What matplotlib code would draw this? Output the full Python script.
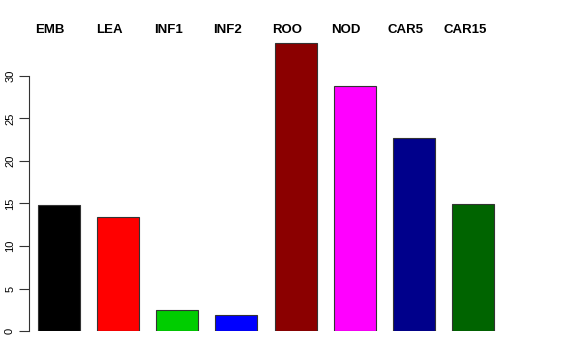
import matplotlib
matplotlib.use("Agg")
import matplotlib.pyplot as plt
import numpy as np

categories = ["EMB", "LEA", "INF1", "INF2", "ROO", "NOD", "CAR5", "CAR15"]
values = [14.8, 13.4, 2.5, 1.9, 33.9, 28.8, 22.7, 14.9]
colors = ["#000000", "#FF0000", "#00CD00", "#0000FF", "#8B0000", "#FF00FF", "#00008B", "#006400"]
yticks = [0, 5, 10, 15, 20, 25, 30]

plt.rcParams['font.family'] = ['Liberation Sans', 'DejaVu Sans']

W, H = 576, 360
fig = plt.figure(figsize=(W / 100, H / 100), dpi=100)
# axes in pixel coordinates
left, right, bottom, top = 29, 503, 331, 42
ax = fig.add_axes([left / W, (H - bottom) / H, (right - left) / W, (bottom - top) / H])

x = np.arange(len(categories))
ax.bar(x, values, width=0.71, color=colors, edgecolor="#333333", linewidth=0.8)
ax.set_xlim(-0.5, len(categories) - 0.5)
ax.set_ylim(0, 34.0)

for s in ["top", "right", "bottom"]:
    ax.spines[s].set_visible(False)
ax.spines["left"].set_bounds(0, 30)
ax.spines["left"].set_color("#333333")
ax.spines["left"].set_linewidth(0.8)
ax.set_xticks([])
ax.set_yticks(yticks)
ax.set_yticklabels([str(t) for t in yticks], rotation=90, va="center", fontsize=8)
ax.tick_params(axis="y", length=7, width=0.8, color="#333333", pad=3)

for xi, lab in zip(x, categories):
    ax.text(xi - 0.145, 1.0, lab, transform=ax.get_xaxis_transform(), ha="center", va="center",
            fontsize=9.5, fontweight="bold")
# place labels at fixed pixel height
for t in ax.texts:
    xd = t.get_position()[0]
    t.set_transform(matplotlib.transforms.blended_transform_factory(ax.transData, fig.transFigure))
    t.set_position((xd, (H - 30) / H))

fig.savefig("out.png", dpi=100)
